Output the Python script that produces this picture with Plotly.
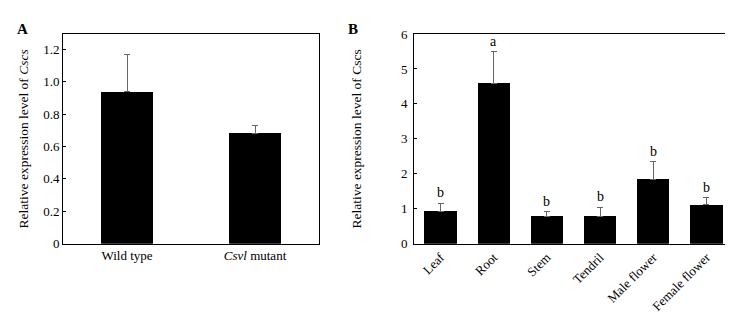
import plotly.graph_objects as go

# Panel A data
a_categories = ["Wild type", "<i>Csvl</i> mutant"]
a_values = [0.937, 0.682]
a_errors = [0.232, 0.045]
a_tickvals = [0, 0.2, 0.4, 0.6, 0.8, 1.0, 1.2]
a_ticktext = ["0", "0.2", "0.4", "0.6", "0.8", "1.0", "1.2"]

# Panel B data
b_categories = ["Leaf", "Root", "Stem", "Tendril", "Male flower", "Female flower"]
b_values = [0.93, 4.59, 0.78, 0.78, 1.85, 1.11]
b_errors = [0.22, 0.90, 0.13, 0.26, 0.49, 0.21]
b_letters = ["b", "a", "b", "b", "b", "b"]
b_tickvals = [0, 1, 2, 3, 4, 5, 6]

FONT = "Liberation Serif, Times New Roman, serif"

fig = go.Figure()

fig.add_trace(go.Bar(
    x=a_categories, y=a_values, xaxis="x", yaxis="y",
    marker=dict(color="black", line=dict(width=0)), width=0.41,
    error_y=dict(type="data", array=a_errors, arrayminus=[0] * len(a_errors),
                 symmetric=False, color="#666666", thickness=1, width=3),
    showlegend=False, hoverinfo="skip",
))

fig.add_trace(go.Bar(
    x=b_categories, y=b_values, xaxis="x2", yaxis="y2",
    marker=dict(color="black", line=dict(width=0)), width=0.61,
    error_y=dict(type="data", array=b_errors, arrayminus=[0] * len(b_errors),
                 symmetric=False, color="#666666", thickness=1, width=3),
    showlegend=False, hoverinfo="skip",
))

annotations = []
for cat, v, e, lab in zip(b_categories, b_values, b_errors, b_letters):
    annotations.append(dict(x=cat, y=v + e, xref="x2", yref="y2", text=lab,
                            showarrow=False, yanchor="bottom", yshift=1,
                            font=dict(family=FONT, size=14, color="black")))

annotations.append(dict(x=14 / 733, y=1 - 15 / 318, xref="paper", yref="paper",
                        text="<b>A</b>", showarrow=False, xanchor="center", yanchor="middle",
                        font=dict(family=FONT, size=15, color="black")))
annotations.append(dict(x=345 / 733, y=1 - 15 / 318, xref="paper", yref="paper",
                        text="<b>B</b>", showarrow=False, xanchor="center", yanchor="middle",
                        font=dict(family=FONT, size=15, color="black")))

axis_common = dict(showline=True, linecolor="black", linewidth=1, mirror=True,
                   showgrid=False, zeroline=False,
                   tickfont=dict(family=FONT, size=13, color="black"))

fig.update_layout(
    width=733, height=318,
    margin=dict(l=0, r=0, t=0, b=0),
    paper_bgcolor="white", plot_bgcolor="white",
    bargap=0,
    font=dict(family=FONT, size=13, color="black"),
    xaxis=dict(domain=[55 / 733, 311 / 733], anchor="y", ticks="",
               range=[-0.5, 1.5], **axis_common),
    yaxis=dict(domain=[1 - 240 / 318, 1 - 20 / 318], anchor="x",
               range=[0, 1.294], tickvals=a_tickvals, ticktext=a_ticktext,
               ticks="inside", ticklen=3, tickcolor="black",
               title=dict(text="Relative expression level of <i>Cscs</i>",
                          font=dict(family=FONT, size=13.5, color="black"), standoff=11),
               **axis_common),
    xaxis2=dict(domain=[406 / 733, 725 / 733], anchor="y2", ticks="",
                range=[-0.5, 5.5], tickangle=-45, **axis_common),
    yaxis2=dict(domain=[1 - 240 / 318, 1 - 20 / 318], anchor="x2",
                range=[0, 6], tickvals=b_tickvals,
                ticks="inside", ticklen=3, tickcolor="black", ticklabelstandoff=3,
                title=dict(text="Relative expression level of Cscs",
                           font=dict(family=FONT, size=13.5, color="black"), standoff=36),
                **axis_common),
    annotations=annotations,
)

fig.write_html("out.html")
